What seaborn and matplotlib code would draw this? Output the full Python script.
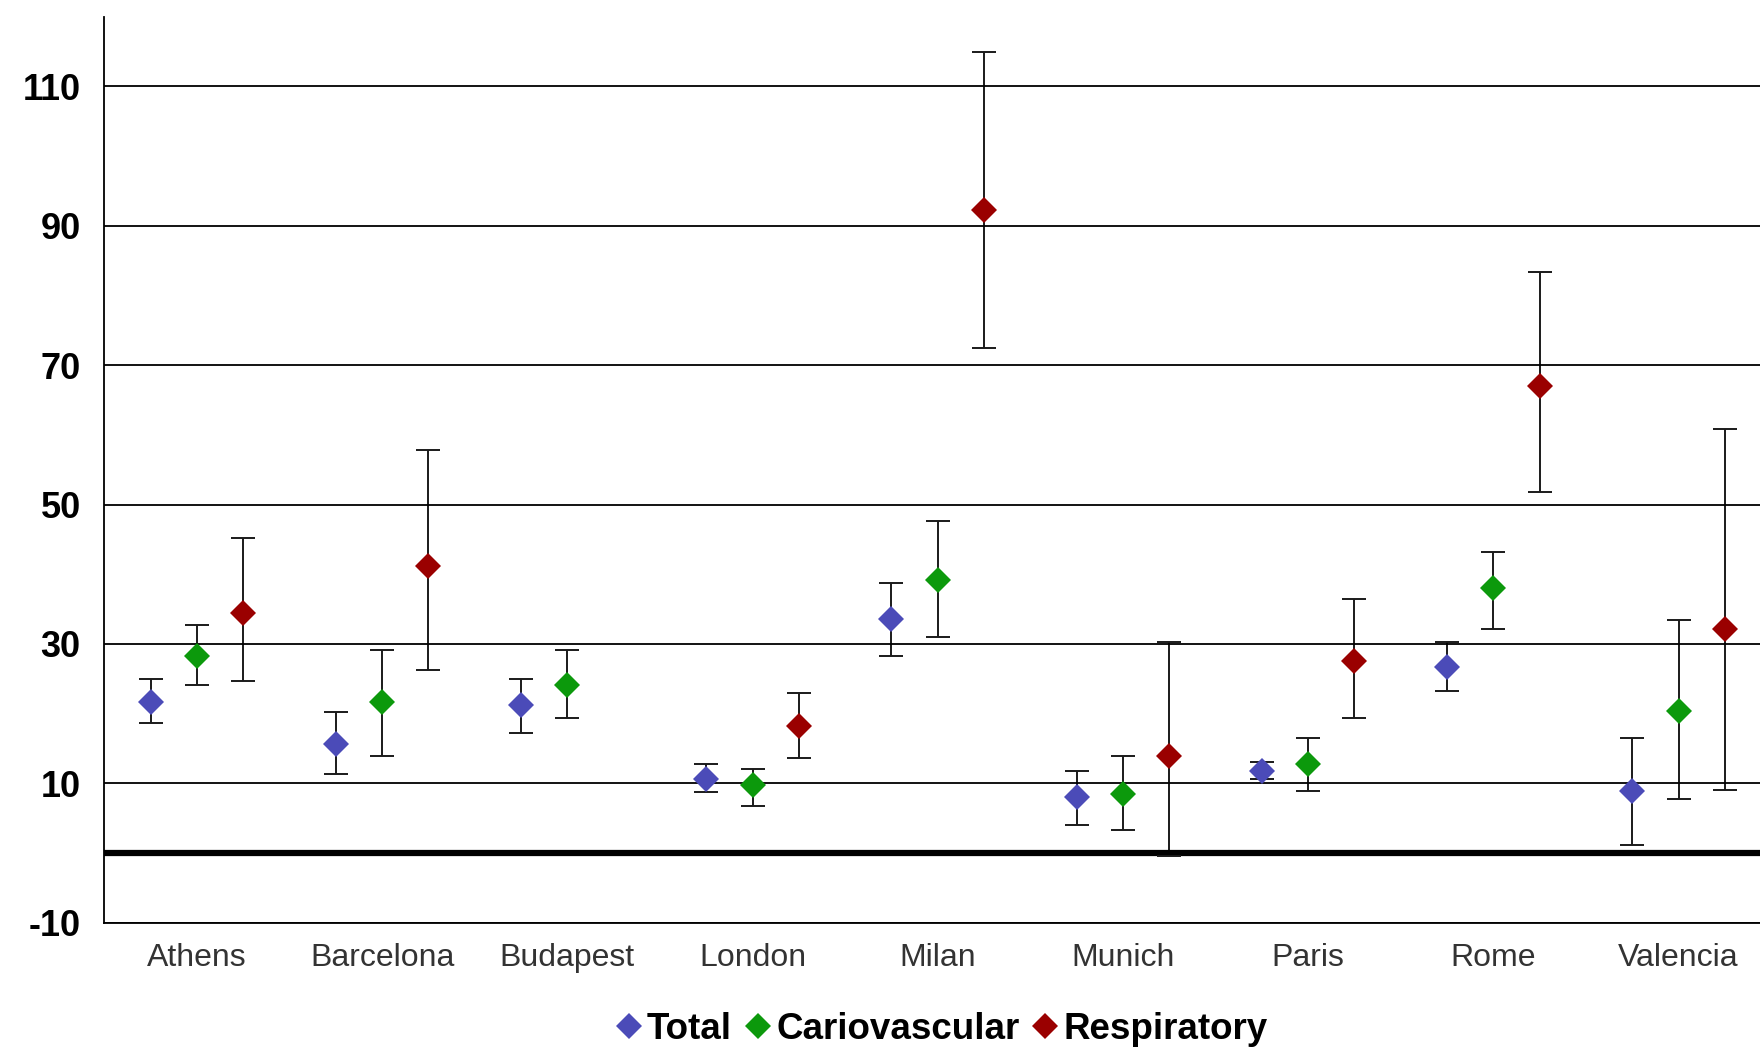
import numpy as np
import pandas as pd
import seaborn as sns
import matplotlib.pyplot as plt
from matplotlib.lines import Line2D

sns.set_style('white')
plt.rcParams['font.family'] = ['Liberation Sans', 'DejaVu Sans']
plt.rcParams['axes.unicode_minus'] = False

# 数据
cities = ['Athens', 'Barcelona', 'Budapest', 'London', 'Milan', 'Munich', 'Paris', 'Rome', 'Valencia']
series = ['Total', 'Cariovascular', 'Respiratory']

total = [21.6, 15.6, 21.2, 10.6, 33.6, 8.0, 11.8, 26.7, 8.9]
total_lo = [18.7, 11.3, 17.2, 8.8, 28.2, 4.0, 10.6, 23.2, 1.2]
total_hi = [24.9, 20.2, 24.9, 12.7, 38.8, 11.8, 13.0, 30.2, 16.5]

cardio = [28.3, 21.6, 24.1, 9.8, 39.1, 8.5, 12.7, 38.0, 20.3]
cardio_lo = [24.1, 13.9, 19.3, 6.8, 31.0, 3.3, 8.9, 32.2, 7.8]
cardio_hi = [32.7, 29.1, 29.1, 12.1, 47.6, 13.9, 16.5, 43.2, 33.5]

resp = [34.4, 41.2, np.nan, 18.2, 92.3, 13.9, 27.6, 67.0, 32.1]
resp_lo = [24.7, 26.2, np.nan, 13.6, 72.4, -0.4, 19.4, 51.8, 9.1]
resp_hi = [45.2, 57.8, np.nan, 22.9, 114.9, 30.3, 36.4, 83.3, 60.9]

colors = ['#4b4bb8', '#0c990c', '#9a0000']
yticks = [-10, 10, 30, 50, 70, 90, 110]

values = [total, cardio, resp]
lows = [total_lo, cardio_lo, resp_lo]
highs = [total_hi, cardio_hi, resp_hi]

rows = []
for s, v in zip(series, values):
    for c, val in zip(cities, v):
        rows.append({'city': c, 'series': s, 'value': val})
df = pd.DataFrame(rows).dropna()

fig = plt.figure(figsize=(17.6, 10.47), dpi=100)
ax = fig.add_axes([0.0593, 0.1188, 0.9407, 0.8652])

# 网格线 + 零线
for t in yticks:
    ax.axhline(t, color='black', lw=1.3, zorder=1)
ax.axhline(0, color='black', lw=4.5, zorder=1)

# 误差线
offsets = [-0.25, 0.0, 0.25]
for v, lo, hi, off in zip(values, lows, highs, offsets):
    v = np.array(v)
    x = np.arange(len(cities)) + off
    ax.errorbar(x, v, yerr=[v - np.array(lo), np.array(hi) - v], fmt='none',
                ecolor='#1a1a1a', elinewidth=1.4, capsize=8.5, capthick=1.4, zorder=2)

# 点
sns.pointplot(data=df, x='city', y='value', hue='series', order=cities, hue_order=series,
              palette=colors, dodge=0.5, linestyle='none', markers='D', errorbar=None,
              markersize=13.5, markeredgewidth=0, legend=False, ax=ax)
for ln in ax.lines:
    ln.set_zorder(4)

ax.set_xlim(-0.5, 8.44)
ax.set_ylim(-10, 120)
ax.set_yticks(yticks)
ax.set_xlabel('')
ax.set_ylabel('')
ax.grid(False)

for side in ['top', 'right']:
    ax.spines[side].set_visible(False)
for side in ['left', 'bottom']:
    ax.spines[side].set_color('black')
    ax.spines[side].set_linewidth(1.3)

ax.tick_params(axis='y', length=12, width=1.3, color='black', pad=5, labelsize=26,
               labelcolor='black')
ax.tick_params(axis='x', length=0, pad=15, labelsize=23, labelcolor='#333333')
for lab in ax.get_yticklabels():
    lab.set_fontweight('bold')

handles = [Line2D([], [], marker='D', ls='none', color=c, markersize=13, markeredgewidth=0)
           for c in colors]
leg = fig.legend(handles, series, loc='center', bbox_to_anchor=(0.534, 0.017), ncol=3,
                 frameon=False, prop={'size': 26.5, 'weight': 'bold'}, handletextpad=0.05,
                 columnspacing=0.25, handlelength=0.9)
for txt in leg.get_texts():
    txt.set_color('black')

fig.savefig('out.png', dpi=100)
